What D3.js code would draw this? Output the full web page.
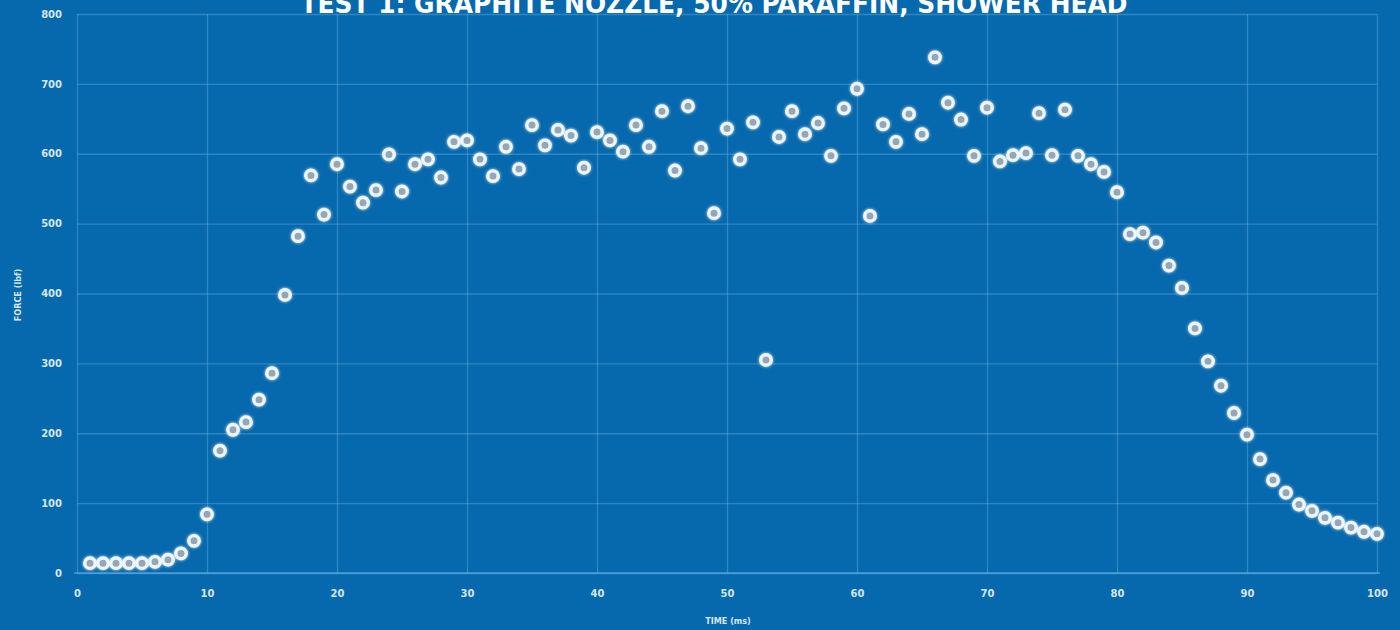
<!DOCTYPE html>
<html>
<head>
<meta charset="utf-8">
<script src="https://cdn.jsdelivr.net/npm/d3@7/dist/d3.min.js"></script>
<style>
  html, body { margin: 0; padding: 0; background: #0769ad; }
  svg { display: block; }
</style>
</head>
<body>
<svg id="chart" width="1400" height="630"></svg>
<script>
// Thrust test 1: force vs time samples
const timeMs = [1,2,3,4,5,6,7,8,9,10,11,12,13,14,15,16,17,18,19,20,
  21,22,23,24,25,26,27,28,29,30,31,32,33,34,35,36,37,38,39,40,
  41,42,43,44,45,46,47,48,49,50,51,52,53,54,55,56,57,58,59,60,
  61,62,63,64,65,66,67,68,69,70,71,72,73,74,75,76,77,78,79,80,
  81,82,83,84,85,86,87,88,89,90,91,92,93,94,95,96,97,98,99,100];
const forceLbf = [14,14,14,14,14,16,19,28,46,84,
  175,205,216,248,286,398,482,569,513,585,
  553,530,548,599,546,585,592,566,617,619,
  592,568,610,578,641,612,634,626,580,631,
  619,603,641,610,661,576,668,608,515,636,
  592,645,305,624,661,628,644,597,665,693,
  511,642,617,657,628,738,673,649,597,666,
  589,598,601,658,598,663,597,585,574,545,
  485,487,473,440,408,350,303,268,229,198,
  163,133,115,98,89,79,72,65,59,56];
const xTicks = [0,10,20,30,40,50,60,70,80,90,100];
const yTicks = [0,100,200,300,400,500,600,700,800];

const titleText = "TEST 1: GRAPHITE NOZZLE, 50% PARAFFIN, SHOWER HEAD";
const xLabel = "TIME (ms)";
const yLabel = "FORCE (lbf)";

const svg = d3.select("#chart");
const W = 1400, H = 630;

svg.append("rect").attr("width", W).attr("height", H).attr("fill", "#0769ad");

const x = d3.scaleLinear().domain([0, 100]).range([77, 1377]);
const y = d3.scaleLinear().domain([0, 800]).range([573, 14]);

// soft glow around the markers
const defs = svg.append("defs");
const glow = defs.append("filter").attr("id", "glow")
  .attr("x", "-60%").attr("y", "-60%").attr("width", "220%").attr("height", "220%");
glow.append("feGaussianBlur").attr("in", "SourceGraphic").attr("stdDeviation", 1.8).attr("result", "blur");
const merge = glow.append("feMerge");
merge.append("feMergeNode").attr("in", "blur");
merge.append("feMergeNode").attr("in", "SourceGraphic");

const gridColor = "rgba(110,185,235,0.36)";

// grid
svg.append("g")
  .attr("transform", "translate(0,573)")
  .call(d3.axisBottom(x).tickValues(xTicks).tickSize(-559).tickFormat(""))
  .call(g => g.select(".domain").remove())
  .call(g => g.selectAll("line").attr("stroke", gridColor).attr("stroke-width", 1.3));

svg.append("g")
  .attr("transform", "translate(77,0)")
  .call(d3.axisLeft(y).tickValues(yTicks).tickSize(-1300).tickFormat(""))
  .call(g => g.select(".domain").remove())
  .call(g => g.selectAll("line").attr("stroke", gridColor).attr("stroke-width", 1.3));

// baseline
svg.append("line")
  .attr("x1", 74).attr("x2", 1380)
  .attr("y1", y(0)).attr("y2", y(0))
  .attr("stroke", "rgba(120,190,240,0.55)").attr("stroke-width", 1.6);

const labelFill = "#d6e6f2";

// tick labels
svg.append("g")
  .attr("transform", "translate(0,573)")
  .call(d3.axisBottom(x).tickValues(xTicks).tickSize(0).tickPadding(17).tickFormat(d3.format("d")))
  .call(g => g.select(".domain").remove())
  .call(g => g.selectAll("text")
    .attr("fill", labelFill)
    .attr("font-family", "DejaVu Sans, sans-serif")
    .attr("font-weight", "bold")
    .attr("font-size", 10));

svg.append("g")
  .attr("transform", "translate(62,0)")
  .call(d3.axisLeft(y).tickValues(yTicks).tickSize(0).tickPadding(0).tickFormat(d3.format("d")))
  .call(g => g.select(".domain").remove())
  .call(g => g.selectAll("text")
    .attr("fill", labelFill)
    .attr("font-family", "DejaVu Sans, sans-serif")
    .attr("font-weight", "bold")
    .attr("font-size", 10));

// axis titles
svg.append("text")
  .attr("x", 728).attr("y", 624)
  .attr("text-anchor", "middle")
  .attr("fill", labelFill)
  .attr("font-family", "DejaVu Sans Condensed, DejaVu Sans, sans-serif")
  .attr("font-weight", "bold")
  .attr("font-size", 9)
  .text(xLabel);

svg.append("text")
  .attr("transform", "translate(21,295) rotate(-90)")
  .attr("text-anchor", "middle")
  .attr("fill", labelFill)
  .attr("font-family", "DejaVu Sans Condensed, DejaVu Sans, sans-serif")
  .attr("font-weight", "bold")
  .attr("font-size", 9)
  .text(yLabel);

// title, sitting against the top edge
svg.append("text")
  .attr("x", 714).attr("y", 13)
  .attr("text-anchor", "middle")
  .attr("fill", "#ffffff")
  .attr("font-family", "DejaVu Sans Condensed, DejaVu Sans, sans-serif")
  .attr("font-weight", "bold")
  .attr("font-size", 27)
  .attr("textLength", 827)
  .attr("lengthAdjust", "spacingAndGlyphs")
  .text(titleText);

// markers
const pts = timeMs.map((t, i) => ({ t, f: forceLbf[i] }));
svg.append("g")
  .attr("filter", "url(#glow)")
  .selectAll("circle")
  .data(pts)
  .join("circle")
  .attr("cx", d => x(d.t))
  .attr("cy", d => y(d.f))
  .attr("r", 5.2)
  .attr("fill", "#95a7b7")
  .attr("stroke", "#eef5fb")
  .attr("stroke-width", 3.4);
</script>
</body>
</html>
